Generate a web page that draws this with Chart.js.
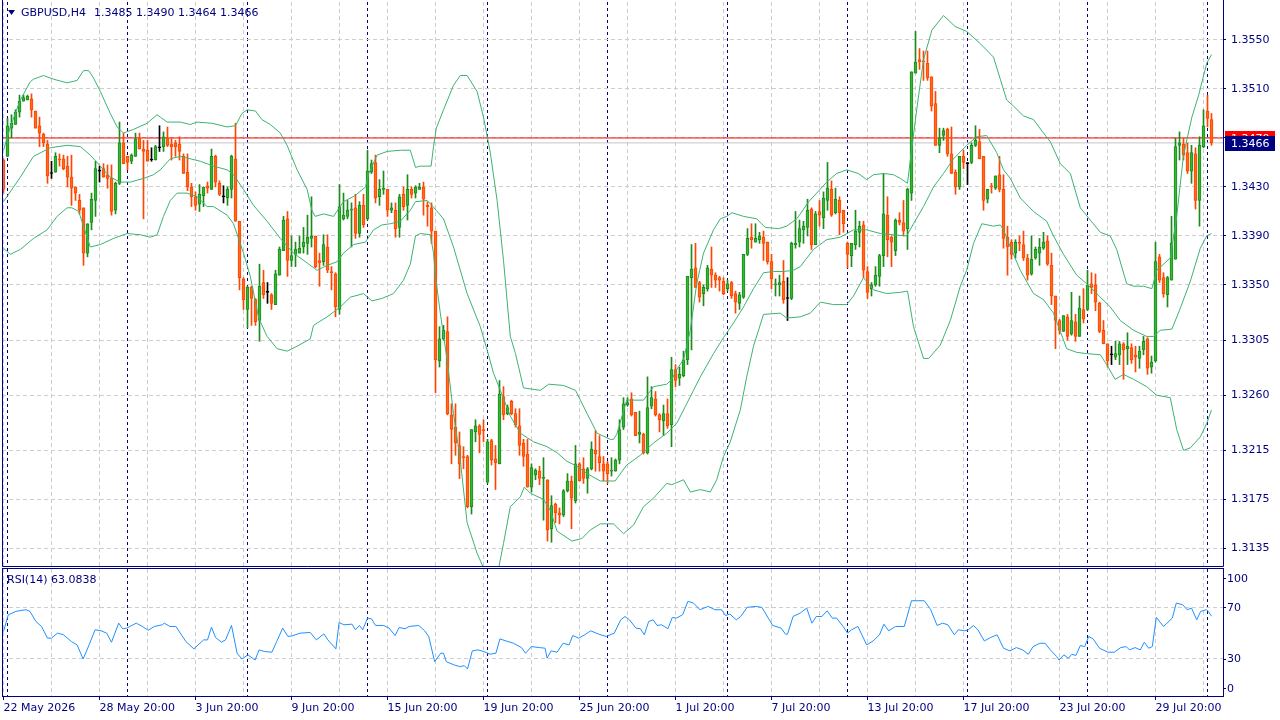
<!DOCTYPE html>
<html>
<head>
<meta charset="utf-8">
<script src="https://cdn.jsdelivr.net/npm/chart.js@4.4.1/dist/chart.umd.min.js"></script>
<style>
  html, body { margin: 0; padding: 0; background: #fff; }
  #wrap { position: relative; width: 1280px; height: 720px; overflow: hidden; background: #fff; }
  #main { position: absolute; left: 0; top: 0; }
  #rsi { position: absolute; left: 0; top: 567px; }
</style>
</head>
<body>
<div id="wrap">
  <canvas id="main" width="1280" height="568"></canvas>
  <canvas id="rsi" width="1280" height="153"></canvas>
</div>
<script>
/* ===== GBPUSD H4, prices in pips above 1.3000 ===== */
const BASE = 1.3;

const O = [
  452,455,478,481,491,500,501,502,492,480, 473,465,441,442,453,453,447,438,430,419,
  413,376,401,419,443,445,440,437,411,433, 466,455,451,455,470,461,460,452,452,462,
  463,470,465,466,465,455,442,430,422,416, 423,431,428,455,433,422,421,428,453,402,
  355,330,348,338,321,352,344,342,334,358, 378,404,370,375,376,381,384,388,390,370,
  369,381,361,359,330,404,406,411,413,392, 415,404,442,450,422,428,428,411,411,397,
  424,415,428,425,428,430,415,413,394,288, 306,312,244,234,219,210,210,169,230,235,
  232,189,223,208,204,259,245,255,245,235, 221,212,185,195,198,192,191,151,171,164,
  162,182,190,174,204,200,192,200,215,210, 204,204,198,198,207,234,252,257,246,228,
  228,213,251,257,244,239,245,236,281,274, 276,289,356,364,352,343,347,363,358,356,
  353,347,352,343,335,340,375,389,385,387, 389,385,369,350,350,353,339,339,383,385,
  395,397,412,383,410,405,419,428,409,419, 411,384,374,383,393,399,361,347,350,357,
  374,407,389,378,403,401,396,425,523,534, 533,531,520,498,464,472,477,457,442,430,
  455,449,450,464,467,455,420,431,429,440, 428,389,385,376,385,383,372,359,372,376,
  380,386,366,341,321,312,324,310,320,308, 330,330,351,350,335,313,302,293,291,293,
  302,298,299,293,290,297,306,283,288,373, 356,342,354,371,464,465,458,443,457,419,
  463,492,485
];
const H = [
  453,486,489,493,505,505,505,506,492,487, 474,468,451,458,457,456,455,456,430,424,
  413,400,425,451,447,449,448,448,434,483, 474,455,457,474,474,468,468,462,464,480,
  475,479,470,468,471,457,457,433,426,432, 430,434,461,456,435,431,430,456,482,402,
  356,349,349,339,367,362,352,343,362,381, 406,410,390,385,390,397,407,422,390,376,
  391,391,365,360,432,425,419,417,424,418, 424,460,452,456,436,443,428,417,417,424,
  430,440,430,431,433,434,418,417,394,316, 317,324,253,253,230,218,211,232,240,236,
  240,224,224,219,272,267,252,256,249,249, 224,224,204,200,202,209,191,178,172,168,
  183,196,194,219,205,209,201,222,231,227, 210,206,209,208,240,258,258,262,246,247,
  229,275,267,263,245,252,257,291,285,283, 296,357,383,384,353,350,366,381,360,357,
  356,354,353,345,344,375,396,400,400,393, 394,385,375,355,358,370,356,385,410,403,
  402,420,413,410,419,426,450,435,429,422, 411,385,384,411,402,402,365,352,365,375,
  441,422,390,404,409,419,429,524,557,543, 541,541,520,508,478,478,478,479,444,455,
  460,450,466,480,477,455,428,433,439,455, 440,398,387,387,390,394,375,390,381,388,
  393,390,376,341,322,325,326,344,326,341, 347,362,360,359,336,321,302,300,304,304,
  303,311,302,300,300,308,307,292,385,375, 360,357,406,470,475,470,466,464,462,471,
  493,505,490
];
const L = [
  425,455,470,481,487,500,501,487,478,463, 463,433,437,442,447,444,430,415,419,408,
  366,373,395,406,434,438,429,407,408,432, 449,444,449,455,461,404,451,451,452,459,
  459,463,452,455,452,441,427,414,411,410, 414,425,428,430,423,417,415,421,402,346,
  330,315,317,317,304,339,335,330,334,358, 378,357,365,365,376,376,375,381,364,349,
  366,360,346,324,326,403,404,381,388,389, 397,403,441,417,415,424,406,409,389,389,
  411,403,421,421,428,407,398,384,262,283, 305,244,204,211,192,200,168,163,222,213,
  222,188,203,183,204,240,244,244,234,211, 202,185,181,191,187,158,141,140,156,155,
  161,181,151,172,190,188,180,199,198,198, 190,188,194,198,204,232,251,243,227,221,
  212,212,249,243,230,227,233,218,267,268, 275,285,297,348,336,333,345,348,348,345,
  342,345,339,327,330,339,374,380,385,384, 370,367,347,341,341,335,321,338,380,381,
  384,390,379,383,398,396,411,406,408,391, 393,364,365,379,381,356,339,341,349,349,
  365,373,365,374,399,390,379,419,523,526, 517,517,492,464,458,468,455,441,424,428,
  445,432,449,463,453,411,417,425,428,426, 380,358,371,372,378,370,354,358,371,366,
  379,366,334,298,310,312,305,309,304,308, 319,329,343,329,311,302,283,285,289,285,
  273,285,286,279,282,293,277,278,287,352, 340,332,354,371,452,452,441,433,412,398,
  462,479,464
];
const C = [
  428,480,482,491,500,503,504,493,478,474, 466,439,441,455,452,445,438,429,425,411,
  376,400,420,445,443,438,437,410,433,466, 449,450,456,469,461,459,451,452,463,462,
  471,464,463,463,459,441,430,422,415,424, 430,429,455,434,424,422,428,455,402,356,
  338,348,339,320,349,342,344,335,359,379, 403,370,374,379,380,385,389,390,365,368,
  383,362,360,332,414,407,411,412,392,415, 399,443,449,421,428,429,411,413,396,422,
  414,428,424,430,430,420,414,394,289,306, 313,245,232,221,204,209,169,232,235,228,
  231,222,207,205,261,244,250,245,236,219, 210,185,201,199,192,193,150,170,164,162,
  182,190,176,204,190,192,200,216,212,205, 198,196,199,207,232,253,254,244,227,230,
  213,250,258,244,240,245,235,281,272,277, 289,357,363,348,340,348,364,358,354,354,
  343,351,341,336,342,375,388,387,388,390, 384,369,355,351,352,338,339,384,384,396,
  398,411,383,408,407,421,429,407,420,409, 400,375,384,394,398,362,344,350,358,374,
  408,387,385,403,401,394,428,524,532,532, 532,519,496,464,470,476,457,441,430,455,
  450,449,464,468,453,419,428,430,439,428, 388,381,375,385,384,372,358,371,379,381,
  385,367,341,321,313,325,308,321,308,331, 322,350,348,336,312,302,288,293,294,302,
  297,300,289,291,296,304,282,287,369,354, 343,356,384,463,466,456,443,458,419,464,
  480,486,466
];

/* Bollinger bands (20,2): [bar index, pips] */
const BB_UPPER = [
  [0,460],[1.7,479],[4.2,501],[6.7,516],[7.5,518],[10,521],[12.5,518],[15.9,515],[18.4,517],[20,525],
  [21.3,525],[22.5,519],[24.2,508],[26.7,490],[28.4,479],[30,474],[32.5,477],[35.9,482],[38.4,489],[39.2,487],
  [40.9,483],[44.2,483],[46.7,481],[48.4,483],[52.1,482],[55.9,479],[58,480],[59.6,490],[60.9,493],[63,492],
  [64.6,485],[66.7,481],[69.2,474],[70.9,464],[73.4,444],[75.9,428],[77.1,411],[77.9,406],[80,408],[82.5,406],
  [85,418],[87.9,423],[90.5,430],[91.3,441],[93.4,456],[95.9,459],[99.2,460],[101.7,460],[103,446],[104.2,447],
  [106.9,447],[107.5,463],[108.2,478],[110,493],[112.5,513],[114.2,521],[115.9,521],[118.4,508],[120,487],[121.7,458],
  [123.4,419],[125,370],[126.7,308],[128,294],[130,266],[134.2,264],[136.3,269],[140,268],[143,264],[145.9,245],
  [148.4,229],[151.7,224],[152.5,224],[153.3,228],[155.8,256],[160,256],[162.5,267],[165.8,269],[167.1,273],[168.3,281],
  [170,289],[171.7,313],[173.3,351],[175,376],[177.5,395],[179.2,404],[180.8,406],[182.1,409],[185,406],[188.3,404],
  [190.4,397],[193.8,396],[195.8,398],[198.3,404],[199.2,408],[201.3,418],[203.3,425],[205.8,434],[208.3,441],[210.8,444],
  [213.7,441],[215.8,436],[217.5,440],[220,441],[222.5,440],[224.2,437],[226,433],[226.7,452],[228.3,493],[230,534],
  [232.1,558],[235,570],[237.9,561],[240.8,557],[244.2,547],[247.5,536],[249.2,518],[250.8,501],[252.5,496],[255,488],
  [257.5,485],[260,474],[261.7,467],[264.2,449],[266.7,441],[269.2,413],[271.7,403],[274.2,393],[276.7,390],[278.3,379],
  [280.8,351],[282.5,349],[285,349],[287.1,347],[288.3,362],[291.7,372],[293.3,406],[295,456],[297.1,487],[298.8,505],
  [300.8,531],[302,538]
];
const BB_MIDDLE = [
  [0,418],[4.2,438],[7.5,455],[11.7,462],[15.9,464],[19.2,463],[21.7,456],[24.2,447],[26.7,438],[29.2,434],
  [31.7,434],[35,437],[37.5,440],[39.2,444],[41.7,453],[44.2,455],[46.7,453],[49.2,451],[52.5,447],[55.9,444],
  [57.5,440],[60,428],[62.5,415],[65.9,402],[69.2,388],[72.5,376],[75.9,368],[78.4,362],[80.9,366],[83.4,369],
  [85,376],[87.5,383],[90.5,385],[92.5,395],[94.6,399],[96.7,400],[99.2,402],[101.7,411],[103,418],[105.9,419],
  [107.1,415],[110,404],[112.5,381],[115.9,343],[119.2,316],[120.9,297],[122.5,278],[124.2,264],[126.7,243],[129.2,229],
  [132.5,222],[135.9,218],[138.4,213],[140.9,206],[143.4,202],[145.9,196],[149.2,190],[152.9,190],[155.8,203],[159.2,211],
  [162.5,221],[165.8,229],[168.3,237],[170.8,253],[174.2,275],[177.5,294],[180,307],[182.5,319],[185,332],[187.5,347],
  [190,360],[192.5,361],[195,361],[197.5,362],[199.2,365],[202.5,379],[205.8,387],[209.2,389],[212.5,395],[215.8,395],
  [219.2,392],[222.5,391],[225.8,390],[227.5,400],[230,414],[232.5,430],[235,441],[237.5,453],[240.8,464],[243.3,471],
  [245.8,472],[248.3,458],[250,444],[251.7,437],[254.2,421],[257.5,410],[260.8,402],[262.5,390],[265,375],[268.3,358],
  [270.8,351],[273.3,343],[276.7,332],[279.2,321],[282.5,313],[285.8,308],[287.5,308],[289.2,313],[292.1,314],[294.2,331],
  [296.7,353],[299.2,380],[300.8,390],[302,392]
];
const BB_LOWER = [
  [0,380],[1.7,375],[4.2,379],[7.5,388],[10.9,395],[13.4,406],[15.9,413],[17.1,413],[18.8,410],[20,398],
  [21.7,381],[24.2,383],[27.5,388],[30.9,392],[34.2,391],[36.7,389],[38.4,391],[40,406],[41.7,419],[43.4,425],
  [45.9,425],[48.4,422],[50.9,414],[52.5,414],[55.9,407],[57.5,400],[60,376],[61.7,357],[63.8,323],[65.9,308],
  [68.4,298],[70.9,296],[73.4,300],[76.7,306],[77.5,317],[80.9,324],[84.2,332],[86.7,340],[90,343],[92.1,337],
  [94.6,339],[97.5,343],[100,354],[101.7,367],[103,390],[104.2,392],[106.7,391],[107.5,376],[108,357],[109.2,327],
  [110.9,289],[112.5,245],[114.2,207],[115.9,156],[118.4,131],[120,119],[121.7,109],[123.8,119],[125,139],[126.7,169],
  [129.2,177],[130.2,185],[131.7,180],[135,175],[136.7,166],[138.4,149],[142.1,141],[144.6,143],[146.7,150],[149.2,155],
  [152.5,155],[155,147],[157.5,154],[160,169],[162.5,176],[165.8,188],[167.1,187],[170,191],[171.7,181],[174.2,183],
  [176.7,181],[178.3,191],[180,210],[181.7,222],[184.2,248],[185.8,275],[187.5,300],[190,326],[194.2,327],[195.8,323],
  [199.2,324],[201.7,327],[204.2,336],[207.5,334],[210.8,334],[212.5,341],[215,356],[217.5,346],[220.8,343],[224.2,344],
  [226,345],[227.5,316],[230,290],[231.3,290],[234.2,301],[236.7,321],[239.2,349],[240.8,362],[242.5,384],[244.6,400],
  [247.5,398],[249.2,399],[250,395],[251.7,381],[254.2,362],[257.5,343],[260,338],[262.5,327],[265.8,298],[268.3,295],
  [270.8,294],[274.2,293],[275.8,285],[277.9,273],[280,277],[282.5,273],[285.8,267],[288.3,260],[291.7,258],[293.3,232],
  [295,215],[296.7,217],[299.2,226],[300.8,237],[302,248]
];

/* RSI(14): [bar index, value] */
const RSI = [
  [0,51.2],[1.2,64.2],[3.1,66.9],[5.6,68.2],[6.6,66.9],[8.1,59],[9.5,55.1],[11,46],[12,46],[13.5,49.9],
  [15,48.6],[17,43.3],[18.4,40.7],[19.9,29.7],[21.4,40.7],[22.9,52.5],[24.4,51.7],[25.8,49.9],[27,42.8],[28.8,57.7],
  [29.8,53.3],[30.8,53.8],[33.2,57.7],[34.7,55.1],[36.2,52.2],[37.7,55.1],[39.7,56.4],[40.2,57.7],[41.6,55.1],[43.1,55.1],
  [45.6,43.3],[47.6,37.6],[50,44.6],[51,44.6],[52,54.6],[53,46.5],[54.5,42.8],[55.5,44.6],[57,55.9],[58.4,34.2],
  [59.6,29.7],[61.1,32.9],[62.9,28.9],[63.9,36.8],[65.3,35.5],[67.1,35],[68.3,43.3],[69.8,53.8],[71.1,47.3],[72.2,47.8],
  [74.2,49.9],[76.7,50.4],[78.2,44.6],[80.1,49.3],[81.1,44.6],[83.1,37.6],[83.9,58.2],[85.1,56.4],[87.1,56.9],[88,52.5],
  [89,55.9],[89.8,52.5],[91,61.6],[92,61.1],[93,55.9],[95,55.9],[96.4,53.8],[97.9,48],[98.9,54.3],[100.4,53.3],
  [101.4,55.1],[103.8,55.9],[105.3,51.7],[106.3,47.3],[107.8,27.6],[109.3,34.2],[110,34.2],[110.7,27.6],[112.7,25],[114.2,23.7],
  [115.2,24.5],[116,21.9],[117.2,36],[118.6,36.8],[120.1,35.5],[121.6,33.4],[123.1,34.2],[124.1,45.4],[125.6,43.8],[127.5,42],
  [129.5,38.6],[130.5,34.2],[132,39.4],[134,38.6],[135.4,38.1],[135.9,30.3],[136.9,36],[138.4,35],[139.9,42],[141.4,40.7],
  [142.3,48],[143.8,46],[145.3,48.6],[146.8,51.7],[148.8,49.1],[150.7,47.3],[152.7,49.9],[154.3,60.3],[155.4,62.9],[156.5,60.3],
  [158.1,53.8],[159.2,53.3],[160.2,48.6],[161.3,59],[162.4,60.3],[163.4,55.9],[164.5,56.4],[166.1,53.3],[167.2,62.2],[168.2,61.6],
  [169.8,64.3],[171.1,74.7],[172.5,73.4],[174.1,68.2],[176.2,70.8],[177.8,68.2],[179.5,68.2],[180.5,63.7],[181.6,64.8],[183.2,60.3],
  [184.3,62.9],[185.9,70],[188,70.8],[189.6,70],[191.2,61.6],[192.3,55.9],[194.4,53.8],[195.5,49.1],[196,49.1],[197.4,62.9],
  [199.2,65.6],[200.8,69.5],[202.1,57.7],[203.2,62.9],[204.6,62.9],[205.9,67.4],[207.2,61.6],[208.3,61.6],[209.9,55.1],[211,49.9],
  [212,52.5],[213.6,55.1],[215.8,40.7],[217.4,43.8],[219,48.6],[220.1,56.9],[221.3,51.7],[223,55.1],[225.2,55.1],[227,75.2],
  [228.6,75.2],[230.2,75.2],[231.8,68.2],[233.4,55.9],[234.8,57.7],[236.1,56.4],[237.7,48.6],[238.7,52.5],[240.3,51.7],[241.2,52.5],
  [242.5,55.9],[243.6,52.5],[245.2,43.8],[246.8,46.5],[248.4,48.6],[250,38.1],[251.6,36],[253.2,38.6],[254.8,36.8],[256.2,33.4],
  [257.4,39.4],[259.1,42],[260.4,42],[261.7,36.8],[263.3,31.6],[263.9,28.9],[265.1,32.9],[266.2,30.3],[267.1,33.4],[268.1,32.4],
  [269.2,40.2],[270.3,39.4],[271.3,47.3],[272.4,45.4],[274,38.1],[276.1,35],[277.7,35],[279.3,38.6],[280.7,39.4],[281.5,36.8],
  [282.9,38.6],[284.2,36.8],[285.2,42.8],[286.3,38.1],[287.2,39.4],[288.2,62.2],[290,55.1],[292.2,61.6],[293.2,73.4],[294.8,72.1],
  [295.9,68.2],[297,69.5],[298.3,60.3],[299.3,66.9],[300.7,68.2],[301.2,66.9],[302,63.1]
];

const ASK = 1.3470, BID = 1.3466;
const PRICE_TICKS = [1.3135,1.3175,1.3215,1.3260,1.3305,1.3350,1.3390,1.3430,1.3470,1.3510,1.3550];
const GRID_BARS = [0,12,24,36,48,60,72,84,96,108,120,132,144,156,168,180,192,204,216,228,240,252,264,276,288,300];
const SEPARATORS = [1,31,61,91,121,151,181,211,241,271,301];
const TIME_TICKS = [0,24,48,72,96,120,144,168,192,216,240,264,288];
const TIME_LABELS = ['22 May 2026','28 May 20:00','3 Jun 20:00','9 Jun 20:00','15 Jun 20:00','19 Jun 20:00',
  '25 Jun 20:00','1 Jul 20:00','7 Jul 20:00','13 Jul 20:00','17 Jul 20:00','23 Jul 20:00','29 Jul 20:00'];
const RSI_LEVELS = [30,70];
const RSI_LABELS = [100,70,30,0];

/* ===== look ===== */
const NAVY = '#000080';
const GRID = '#cdcdcd';
const BAND = '#3cb371';
const BULL_FILL = '#33b833', BULL_EDGE = '#1e8a1e';
const BEAR_FILL = '#ff6a1a', BEAR_EDGE = '#ff4500';
const XMIN = -0.375, XMAX = 304.875;
const YMIN = 1.31206, YMAX = 1.35810;

Chart.defaults.font.family = 'DejaVu Sans';
Chart.defaults.font.size = 11;

const px = p => +(BASE + p / 10000).toFixed(5);
const kind = C.map((c, i) => c > O[i] ? 1 : c < O[i] ? -1 : 0);
const bodies = C.map((c, i) => ({x: i, y: [px(O[i]), px(c)]}));
const wicks = C.map((c, i) => ({x: i, y: [px(L[i]), px(H[i])]}));
const band = arr => arr.map(([i, p]) => ({x: i, y: px(p)}));
const setTicks = list => s => { s.ticks = list.map(v => ({value: v})); };

/* ===== decorations ===== */
const mainDecor = {
  id: 'mainDecor',
  afterDraw(chart) {
    const {ctx, chartArea: a, scales: {y}} = chart;
    ctx.save();
    ctx.strokeStyle = NAVY; ctx.lineWidth = 1;
    ctx.beginPath();
    ctx.moveTo(a.left + 0.5, 0); ctx.lineTo(a.left + 0.5, a.bottom + 0.5);
    ctx.lineTo(a.right + 0.5, a.bottom + 0.5); ctx.lineTo(a.right + 0.5, 0);
    ctx.stroke();

    ctx.font = '11px "DejaVu Sans"';
    ctx.textBaseline = 'middle';
    const box = (v, fill) => {
      const yy = Math.round(y.getPixelForValue(v));
      ctx.fillStyle = fill;
      ctx.fillRect(a.right + 2, yy - 7, 50, 15);
      ctx.fillStyle = '#fff';
      ctx.fillText(v.toFixed(4), a.right + 8, yy + 1);
    };
    box(ASK, '#ff0000');
    box(BID, NAVY);

    // header
    ctx.fillStyle = NAVY;
    ctx.beginPath(); ctx.moveTo(8, 10); ctx.lineTo(15, 10); ctx.lineTo(11.5, 15); ctx.closePath(); ctx.fill();
    ctx.fillText('GBPUSD,H4', 21, 13);
    ctx.fillText('1.3485 1.3490 1.3464 1.3466', 94, 13);
    ctx.restore();
  }
};

const rsiDecor = {
  id: 'rsiDecor',
  afterDraw(chart) {
    const {ctx, chartArea: a, scales: {y}} = chart;
    ctx.save();
    ctx.strokeStyle = NAVY; ctx.lineWidth = 1;
    ctx.strokeRect(a.left + 0.5, a.top - 0.5, a.right - a.left, a.bottom - a.top);
    ctx.font = '11px "DejaVu Sans"';
    ctx.fillStyle = NAVY;
    ctx.textBaseline = 'middle';
    ctx.fillText('RSI(14) 63.0838', 7, 13);
    RSI_LABELS.forEach(v => {
      const yy = Math.min(Math.max(y.getPixelForValue(v), a.top + 9), a.bottom - 9);
      ctx.beginPath(); ctx.moveTo(a.right, Math.round(yy) + 0.5); ctx.lineTo(a.right + 3, Math.round(yy) + 0.5); ctx.stroke();
      ctx.fillText(String(v), a.right + 4, yy + 1);
    });
    ctx.restore();
  }
};

/* ===== main chart ===== */
new Chart(document.getElementById('main'), {
  type: 'bar',
  data: {
    datasets: [
      {type: 'line', data: band(BB_UPPER), borderColor: BAND, borderWidth: 1, pointRadius: 0, tension: 0},
      {type: 'line', data: band(BB_MIDDLE), borderColor: BAND, borderWidth: 1, pointRadius: 0, tension: 0},
      {type: 'line', data: band(BB_LOWER), borderColor: BAND, borderWidth: 1, pointRadius: 0, tension: 0},
      {data: bodies, grouped: false, barThickness: 3, minBarLength: 1, borderWidth: 1, borderSkipped: false,
       backgroundColor: kind.map(k => k > 0 ? BULL_FILL : k < 0 ? BEAR_FILL : '#000'),
       borderColor: kind.map(k => k > 0 ? BULL_EDGE : k < 0 ? BEAR_EDGE : '#000')},
      {data: wicks, grouped: false, barThickness: 1, borderWidth: 0,
       backgroundColor: kind.map(k => k > 0 ? BULL_EDGE : k < 0 ? BEAR_EDGE : '#000')},
      {type: 'line', data: [{x: XMIN, y: ASK}, {x: XMAX, y: ASK}], borderColor: '#ff0000', borderWidth: 1, pointRadius: 0},
      {type: 'line', data: [{x: XMIN, y: BID}, {x: XMAX, y: BID}], borderColor: '#c4c4c4', borderWidth: 1, pointRadius: 0}
    ]
  },
  options: {
    responsive: false, animation: false, devicePixelRatio: 1, events: [],
    layout: {padding: {left: 2, top: 2, right: 0, bottom: 2}},
    plugins: {legend: {display: false}, tooltip: {enabled: false}},
    scales: {
      x: {
        type: 'linear', offset: false, min: XMIN, max: XMAX, afterBuildTicks: setTicks(GRID_BARS),
        ticks: {display: false}, grid: {color: GRID, drawTicks: false, offset: false},
        border: {display: false, dash: [4, 3]},
        afterFit: s => { s.height = 0; s.paddingLeft = 0; s.paddingRight = 0; }
      },
      xs: {
        type: 'linear', position: 'bottom', offset: false, min: XMIN, max: XMAX, afterBuildTicks: setTicks(SEPARATORS),
        ticks: {display: false}, grid: {color: NAVY, drawTicks: false, offset: false},
        border: {display: false, dash: [3, 3]},
        afterFit: s => { s.height = 0; s.paddingLeft = 0; s.paddingRight = 0; }
      },
      y: {
        position: 'right', min: YMIN, max: YMAX, afterBuildTicks: setTicks(PRICE_TICKS),
        ticks: {color: NAVY, padding: 5, crossAlign: 'near', callback: v => v.toFixed(4)},
        grid: {color: GRID, tickLength: 3, tickColor: NAVY},
        border: {display: false, dash: [4, 3]},
        afterFit: s => { s.width = 57; s.paddingTop = 0; s.paddingBottom = 0; }
      }
    }
  },
  plugins: [mainDecor]
});

/* ===== RSI panel ===== */
new Chart(document.getElementById('rsi'), {
  type: 'line',
  data: {
    datasets: [{data: RSI.map(([i, v]) => ({x: i, y: v})), borderColor: '#1e90ff', borderWidth: 1, pointRadius: 0, tension: 0}]
  },
  options: {
    responsive: false, animation: false, devicePixelRatio: 1, events: [],
    layout: {padding: {left: 2, top: 2, right: 0, bottom: 0}},
    plugins: {legend: {display: false}, tooltip: {enabled: false}},
    scales: {
      x: {
        type: 'linear', offset: false, min: XMIN, max: XMAX, afterBuildTicks: setTicks(GRID_BARS),
        ticks: {
          color: NAVY, autoSkip: false, maxRotation: 0, minRotation: 0, align: 'start', padding: 2,
          callback: v => { const k = TIME_TICKS.indexOf(v); return k >= 0 ? TIME_LABELS[k] : ''; }
        },
        grid: {color: GRID, tickLength: 3, offset: false,
               tickColor: c => (c.tick && TIME_TICKS.includes(c.tick.value)) ? NAVY : 'rgba(0,0,0,0)'},
        border: {display: false, dash: [4, 3]},
        afterFit: s => { s.height = 23; s.paddingLeft = 0; s.paddingRight = 0; }
      },
      xs: {
        type: 'linear', position: 'bottom', offset: false, min: XMIN, max: XMAX, afterBuildTicks: setTicks(SEPARATORS),
        ticks: {display: false}, grid: {color: NAVY, drawTicks: false, offset: false},
        border: {display: false, dash: [3, 3]},
        afterFit: s => { s.height = 0; s.paddingLeft = 0; s.paddingRight = 0; }
      },
      y: {
        position: 'right', min: 0, max: 100, afterBuildTicks: setTicks(RSI_LEVELS),
        ticks: {display: false}, grid: {color: GRID, drawTicks: false},
        border: {display: false, dash: [4, 3]},
        afterFit: s => { s.width = 57; s.paddingTop = 0; s.paddingBottom = 0; }
      }
    }
  },
  plugins: [rsiDecor]
});
</script>
</body>
</html>
